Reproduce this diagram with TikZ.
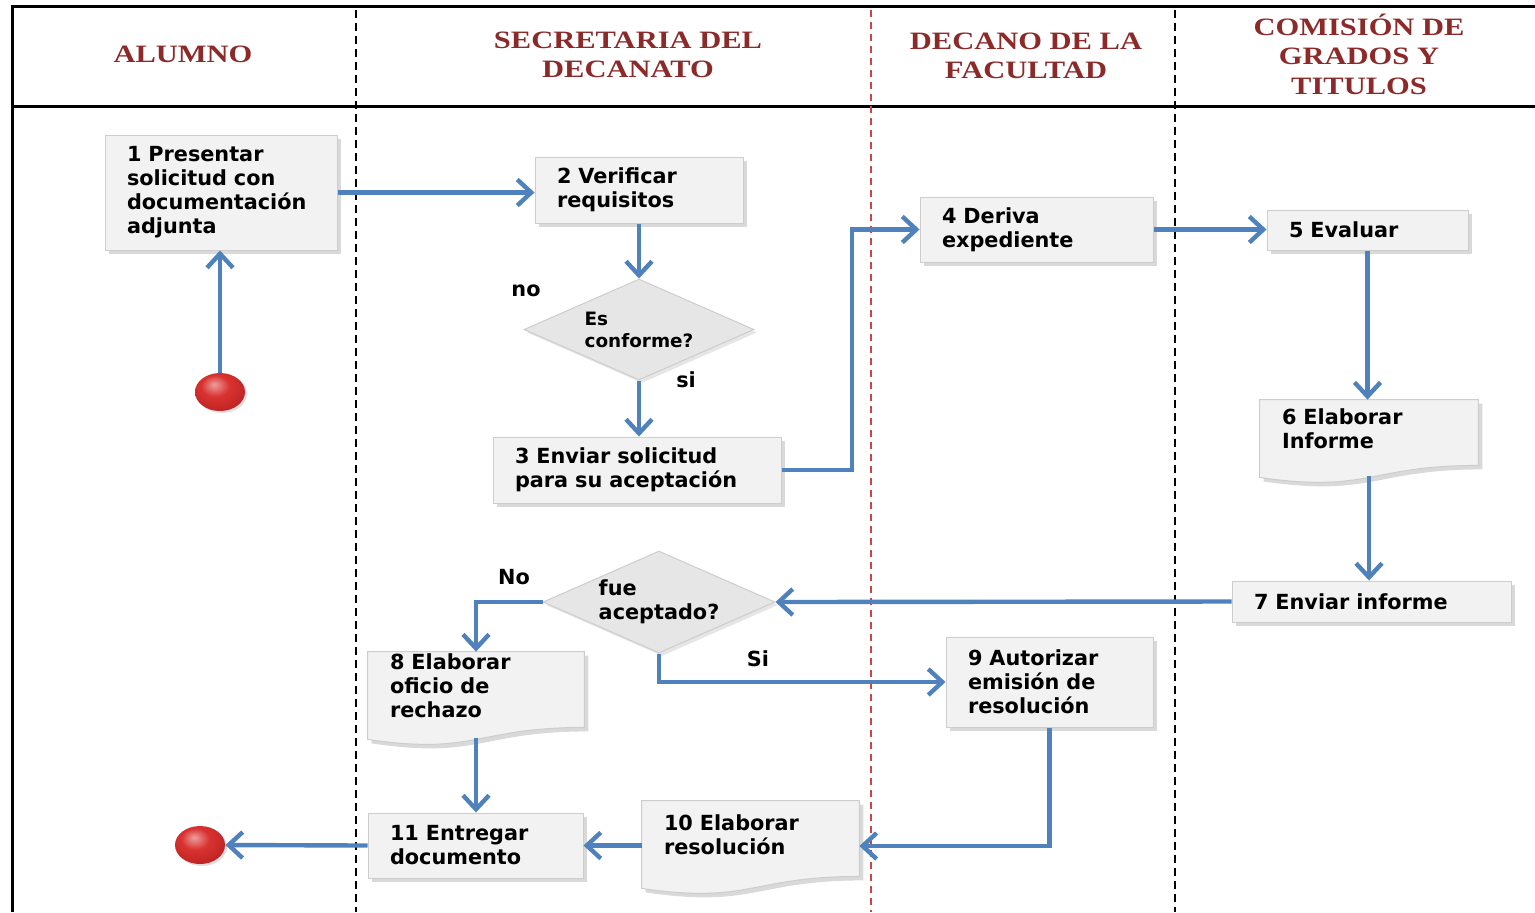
\documentclass[tikz,border=0pt]{standalone}
\usepackage{fontspec}
\setmainfont{DejaVu Sans}
\newfontfamily\hdrfont{Liberation Serif}[FakeStretch=1.22]
\usetikzlibrary{shapes.geometric,arrows.meta,shadows,backgrounds,calc}
\definecolor{flow}{RGB}{79,129,189}
\definecolor{hdr}{RGB}{140,42,42}
\definecolor{boxfill}{RGB}{242,242,242}
\definecolor{boxline}{RGB}{205,205,205}
\definecolor{lanered}{RGB}{200,70,70}
\definecolor{ballred}{RGB}{215,40,38}

% glossy red ball for start and end markers
\pgfdeclareradialshading{redball}{\pgfpoint{-6bp}{10bp}}{%
  color(0bp)=(ballred!45!white); color(14bp)=(ballred!95!white);
  color(32bp)=(ballred!88!black); color(48bp)=(ballred!65!black);
  color(70bp)=(ballred!55!black)}

% wavy "document" outline drawn behind a docnode
\newcommand\docwave[1]{%
  \begin{pgfonlayer}{background}
    \path[docbody] (#1.north west) -- (#1.north east) -- ($(#1.south east)+(0,7)$)
      .. controls ($(#1.south)+(0,7)$) and ($(#1.south)+(0,35)$) .. ($(#1.south west)+(0,19)$) -- cycle;
  \end{pgfonlayer}}

\begin{document}
\begin{tikzpicture}[x=0.5pt,y=-0.5pt,
  txt/.style={font=\bfseries\fontsize{10.4}{12}\selectfont},
  stepbox/.style={txt, rectangle, fill=boxfill, draw=boxline, line width=0.5pt,
    drop shadow={shadow xshift=2pt, shadow yshift=-2pt, opacity=0.3},
    inner xsep=11pt, inner ysep=1pt, align=left},
  docnode/.style={txt, rectangle, inner xsep=11pt, inner ysep=0pt, align=left},
  docbody/.style={fill=boxfill, draw=boxline, line width=0.5pt,
    drop shadow={shadow xshift=2pt, shadow yshift=-2pt, opacity=0.3}},
  decision/.style={txt, diamond, shape aspect=2.28, fill=boxfill!95!black, draw=boxline,
    line width=0.5pt, inner sep=0pt, align=left,
    drop shadow={shadow xshift=1.5pt, shadow yshift=-1.5pt, opacity=0.2}},
  lbl/.style={txt},
  hdrtext/.style={font=\hdrfont\bfseries\fontsize{12.5}{14.8}\selectfont, text=hdr, align=center},
  endball/.style={ellipse, minimum width=25pt, minimum height=19pt, inner sep=0pt,
    shading=redball,
    drop shadow={shadow xshift=1pt, shadow yshift=-1pt, opacity=0.25}},
  flowarrow/.style={draw=flow, line width=2.2pt, -{Straight Barb[length=7pt,width=13pt]}},
  laneline/.style={line width=0.8pt, dash pattern=on 4pt off 2.5pt}
]
\useasboundingbox (0,0) rectangle (1535,912);

% lane frame and separators
\draw[line width=1.5pt] (12,912) -- (12,6) -- (1535,6);
\draw[line width=1.5pt] (12,106) -- (1535,106);
\draw[laneline] (356,10) -- (356,912);
\draw[laneline, lanered, line width=0.6pt, dash pattern=on 3.5pt off 2.5pt] (871,10) -- (871,912);
\draw[laneline] (1175,10) -- (1175,912);

% lane headings
\node[hdrtext] (hA) at (183,54) {ALUMNO};
\node[hdrtext] (hS) at (628,55) {SECRETARIA DEL\\DECANATO};
\node[hdrtext] (hD) at (1026,56) {DECANO DE LA\\FACULTAD};
\node[hdrtext] (hC) at (1359,54) {COMISIÓN DE\\GRADOS Y\\TITULOS};

% activities
\node[stepbox, text width=94pt, minimum height=57.5pt] (b1) at (221,192.5) {1 Presentar\\solicitud con\\documentación\\adjunta};
\node[stepbox, text width=82pt, minimum height=33pt] (b2) at (639,190) {2 Verificar\\requisitos};
\node[decision, minimum width=115pt, minimum height=50.5pt, font=\bfseries\fontsize{9.2}{11}\selectfont] (dm1) at (639,329.5) {Es\\conforme?};
\node[stepbox, text width=122pt, minimum height=33pt] (b3) at (637,470) {3 Enviar solicitud\\para su aceptación};
\node[stepbox, text width=94.5pt, minimum height=32.5pt] (b4) at (1036.5,229.5) {4 Deriva\\expediente};
\node[stepbox, text width=78.5pt, minimum height=20pt] (b5) at (1367.5,230) {5 Evaluar};
\node[docnode, text width=87pt, minimum height=29pt] (d6) at (1369,429) {6 Elaborar\\Informe};
\docwave{d6}
\node[stepbox, text width=117.5pt, minimum height=20.5pt] (b7) at (1371.5,601.5) {7 Enviar informe};
\node[decision, minimum width=116pt, minimum height=51pt] (dm2) at (659,602) {fue\\aceptado?};
\node[docnode, text width=86pt, minimum height=34pt] (d8) at (476,686) {8 Elaborar\\oficio de\\rechazo};
\docwave{d8}
\node[stepbox, text width=81.5pt, minimum height=45pt] (b9) at (1049.5,682) {9 Autorizar\\emisión de\\resolución};
\node[docnode, text width=86.5pt, minimum height=34pt] (d10) at (750.5,835) {10 Elaborar\\resolución};
\docwave{d10}
\node[stepbox, text width=85.5pt, minimum height=32.5pt] (b11) at (475.5,845.5) {11 Entregar\\documento};

% branch labels
\node[lbl] (lno) at (526,291) {no};
\node[lbl] (lsi) at (686,380) {si};
\node[lbl] (lNo) at (514,577) {No};
\node[lbl] (lSi) at (758,659) {Si};

% start and end
\node[endball] (st) at (220,392) {};
\node[endball] (en) at (200,845) {};

% flow
\coordinate (j34) at (852,350);
\draw[flowarrow] (st.north) -- (st.north |- b1.south);
\draw[flowarrow] (b1.east) -- (b1.east -| b2.west);
\draw[flowarrow] (b2.south) -- (dm1.north);
\draw[flowarrow] (dm1.south) -- (dm1.south |- b3.north);
\draw[flowarrow] (b3.east) -| (j34) |- (b4.west);
\draw[flowarrow] (b4.east) -- (b4.east -| b5.west);
\draw[flowarrow] (b5.south) -- (b5.south |- d6.north);
\draw[flowarrow] ($(d6.south)+(0,18)$) -- (d6.south |- b7.north);
\draw[flowarrow] (b7.west) -- (dm2.east);
\draw[flowarrow] (dm2.west) -| (d8.north);
\draw[flowarrow] (dm2.south) |- (b9.west);
\draw[flowarrow] ($(d8.south)+(0,18)$) -- (d8.south |- b11.north);
\draw[flowarrow] (b9.south) |- ($(d10.east)+(0,11)$);
\draw[flowarrow] (d10.west |- b11.east) -- (b11.east);
\draw[flowarrow] (b11.west) -- (en.east);
\end{tikzpicture}
\end{document}
